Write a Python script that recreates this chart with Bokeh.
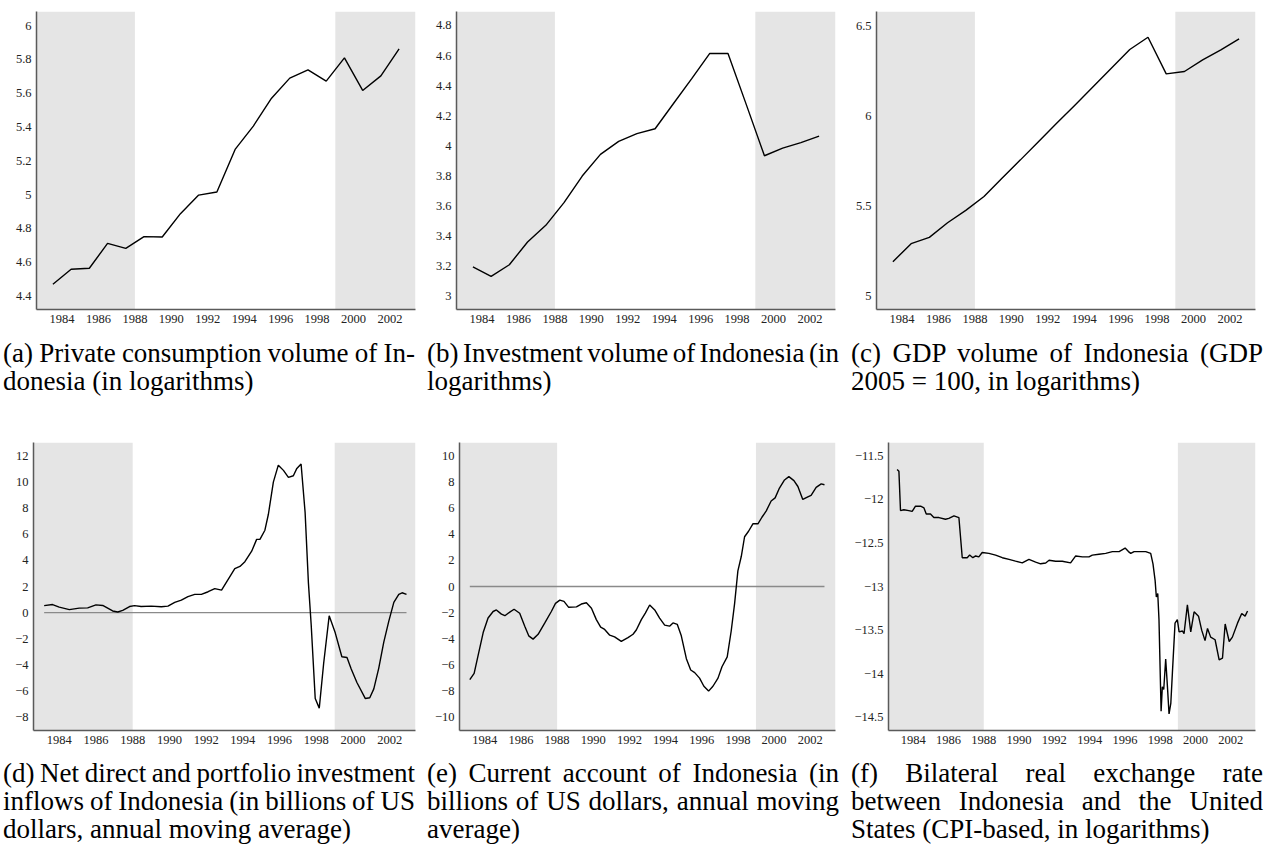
from bokeh.plotting import figure
from bokeh.models import (Range1d, FixedTicker, CustomJSTickFormatter, BoxAnnotation, Div)
from bokeh.layouts import column, row
from bokeh.embed import file_html
from bokeh.resources import INLINE

# ---------------- data ----------------
years_annual = [1983.5, 1984.5, 1985.5, 1986.5, 1987.5, 1988.5, 1989.5, 1990.5, 1991.5, 1992.5,
                1993.5, 1994.5, 1995.5, 1996.5, 1997.5, 1998.5, 1999.5, 2000.5, 2001.5, 2002.5]
consumption = [4.469, 4.558, 4.564, 4.711, 4.682, 4.751, 4.749, 4.887, 4.997, 5.015,
               5.267, 5.405, 5.570, 5.689, 5.738, 5.671, 5.809, 5.616, 5.702, 5.862]
investment = [3.193, 3.131, 3.208, 3.359, 3.470, 3.621, 3.798, 3.942, 4.029, 4.080,
              4.113, 4.279, 4.445, 4.614, 4.614, 4.275, 3.933, 3.984, 4.020, 4.064]
gdp = [5.190, 5.290, 5.325, 5.406, 5.475, 5.552, 5.654, 5.755, 5.857, 5.959,
       6.060, 6.162, 6.265, 6.367, 6.435, 6.232, 6.245, 6.310, 6.365, 6.426]

inflow_years = [1983.18, 1983.64, 1984.00, 1984.55, 1985.09, 1985.55, 1986.00, 1986.37, 1986.91, 1987.19,
                1987.46, 1987.83, 1988.10, 1988.46, 1989.01, 1989.56, 1989.92, 1990.29, 1990.65, 1991.01,
                1991.38, 1991.74, 1992.11, 1992.47, 1992.84, 1993.20, 1993.56, 1993.84, 1994.11, 1994.48,
                1994.75, 1994.93, 1995.20, 1995.39, 1995.66, 1995.93, 1996.21, 1996.48, 1996.75, 1996.94,
                1997.17, 1997.39, 1997.57, 1997.72, 1997.94, 1998.16, 1998.40, 1998.70, 1999.03, 1999.39,
                1999.67, 1999.90, 2000.21, 2000.67, 2000.91, 2001.13, 2001.40, 2001.67, 2001.94, 2002.22,
                2002.49, 2002.67, 2002.91]
inflow_vals = [0.54, 0.62, 0.42, 0.23, 0.35, 0.37, 0.60, 0.55, 0.13, 0.05,
               0.18, 0.47, 0.54, 0.47, 0.50, 0.45, 0.50, 0.79, 0.96, 1.23,
               1.40, 1.40, 1.60, 1.84, 1.72, 2.55, 3.36, 3.53, 3.90, 4.70,
               5.60, 5.60, 6.30, 7.52, 9.97, 11.27, 10.87, 10.34, 10.46, 11.02,
               11.36, 7.64, 2.26, -0.92, -6.55, -7.29, -3.86, -0.24, -1.54, -3.37,
               -3.42, -4.30, -5.33, -6.56, -6.50, -5.82, -4.23, -2.27, -0.68, 0.79,
               1.40, 1.52, 1.40]

ca_years = [1983.17, 1983.41, 1983.63, 1983.91, 1984.18, 1984.46, 1984.64, 1984.92, 1985.11, 1985.38,
            1985.62, 1985.93, 1986.21, 1986.43, 1986.67, 1986.95, 1987.32, 1987.68, 1987.91, 1988.15,
            1988.38, 1988.64, 1989.07, 1989.34, 1989.62, 1989.90, 1990.17, 1990.41, 1990.63, 1990.91,
            1991.18, 1991.55, 1991.92, 1992.20, 1992.38, 1992.66, 1992.88, 1993.12, 1993.40, 1993.67,
            1993.95, 1994.22, 1994.41, 1994.65, 1994.87, 1995.15, 1995.39, 1995.61, 1995.88, 1996.12,
            1996.38, 1996.62, 1996.90, 1997.12, 1997.41, 1997.63, 1997.82, 1998.00, 1998.19, 1998.37,
            1998.59, 1998.83, 1999.11, 1999.33, 1999.57, 1999.84, 2000.06, 2000.30, 2000.58, 2000.82,
            2001.10, 2001.32, 2001.59, 2001.87, 2002.05, 2002.33, 2002.61, 2002.79]
ca_vals = [-7.12, -6.63, -5.26, -3.52, -2.41, -1.91, -1.79, -2.11, -2.23, -1.96,
           -1.74, -2.04, -3.03, -3.77, -4.02, -3.65, -2.78, -1.91, -1.29, -1.04,
           -1.14, -1.59, -1.56, -1.34, -1.24, -1.66, -2.53, -3.10, -3.28, -3.72,
           -3.85, -4.19, -3.90, -3.65, -3.32, -2.53, -2.03, -1.41, -1.79, -2.41,
           -2.95, -3.03, -2.78, -2.90, -3.77, -5.51, -6.38, -6.58, -7.00, -7.62,
           -7.99, -7.62, -7.00, -6.13, -5.38, -3.40, -1.29, 1.19, 2.31, 3.80,
           4.22, 4.79, 4.79, 5.29, 5.78, 6.53, 6.77, 7.52, 8.14, 8.39,
           8.09, 7.64, 6.65, 6.85, 6.97, 7.57, 7.84, 7.77]

rer_years = [1983.09, 1983.19, 1983.28, 1983.47, 1983.75, 1983.94, 1984.13, 1984.42, 1984.61, 1984.74,
             1984.98, 1985.17, 1985.46, 1985.83, 1986.02, 1986.31, 1986.59, 1986.78, 1987.06, 1987.20,
             1987.38, 1987.54, 1987.72, 1987.91, 1988.29, 1988.67, 1989.05, 1989.43, 1989.80, 1990.18,
             1990.56, 1990.94, 1991.22, 1991.51, 1991.70, 1992.07, 1992.45, 1992.92, 1993.21, 1993.59,
             1993.96, 1994.15, 1994.53, 1994.91, 1995.29, 1995.67, 1996.01, 1996.20, 1996.33, 1996.52,
             1996.80, 1997.18, 1997.46, 1997.59, 1997.71, 1997.78, 1997.86, 1997.93, 1998.05, 1998.12,
             1998.20, 1998.31, 1998.41, 1998.50, 1998.60, 1998.69, 1998.84, 1998.97, 1999.07, 1999.26,
             1999.35, 1999.54, 1999.73, 1999.92, 2000.17, 2000.35, 2000.54, 2000.68, 2000.86, 2001.11,
             2001.34, 2001.53, 2001.68, 2001.91, 2002.09, 2002.38, 2002.62, 2002.81, 2002.95]
rer_vals = [-11.66, -11.68, -12.13, -12.12, -12.13, -12.14, -12.08, -12.08, -12.10, -12.17,
            -12.17, -12.21, -12.21, -12.23, -12.22, -12.19, -12.21, -12.67, -12.67, -12.64,
            -12.67, -12.65, -12.66, -12.61, -12.62, -12.64, -12.67, -12.69, -12.71, -12.73,
            -12.69, -12.72, -12.74, -12.73, -12.70, -12.71, -12.71, -12.73, -12.65, -12.66,
            -12.66, -12.64, -12.63, -12.62, -12.60, -12.60, -12.56, -12.60, -12.62, -12.60,
            -12.60, -12.60, -12.62, -12.74, -12.93, -13.12, -13.08, -13.38, -14.43, -14.15,
            -14.18, -13.83, -14.15, -14.46, -14.34, -13.99, -13.42, -13.38, -13.52, -13.51,
            -13.54, -13.21, -13.52, -13.29, -13.34, -13.50, -13.62, -13.48, -13.58, -13.61,
            -13.84, -13.82, -13.43, -13.63, -13.58, -13.42, -13.31, -13.34, -13.28]

x_ticks = [1984, 1986, 1988, 1990, 1992, 1994, 1996, 1998, 2000, 2002]
yticks_a = [4.4, 4.6, 4.8, 5, 5.2, 5.4, 5.6, 5.8, 6]
yticks_b = [3, 3.2, 3.4, 3.6, 3.8, 4, 4.2, 4.4, 4.6, 4.8]
yticks_c = [5, 5.5, 6, 6.5]
yticks_d = [-8, -6, -4, -2, 0, 2, 4, 6, 8, 10, 12]
yticks_e = [-10, -8, -6, -4, -2, 0, 2, 4, 6, 8, 10]
yticks_f = [-14.5, -14, -13.5, -13, -12.5, -12, -11.5]

shade_end_first = 1988
shade_start_second = 1999
x_start, x_end = 1982.6, 2003.4

captions = {
    "a": ["(a) Private consumption volume of In-", "donesia (in logarithms)"],
    "b": ["(b) Investment volume of Indonesia (in", "logarithms)"],
    "c": ["(c) GDP volume of Indonesia (GDP", "2005 = 100, in logarithms)"],
    "d": ["(d) Net direct and portfolio investment", "inflows of Indonesia (in billions of US",
          "dollars, annual moving average)"],
    "e": ["(e) Current account of Indonesia (in", "billions of US dollars, annual moving", "average)"],
    "f": ["(f) Bilateral real exchange rate", "between Indonesia and the United",
          "States (CPI-based, in logarithms)"],
}

SERIF = "Liberation Serif"
SHADE = "#e5e5e5"
AXIS = "#5a5a5a"

fmt_code = "return String(tick).replace('-', '\\u2212');"


def panel(xs, ys, y_rng, yticks, borders, zero=False):
    left, right, top, bottom = borders
    p = figure(width=424, height=330, output_backend="svg", toolbar_location=None,
               x_range=Range1d(x_start, x_end), y_range=Range1d(*y_rng),
               min_border_left=left, min_border_right=right,
               min_border_top=top, min_border_bottom=bottom)
    p.outline_line_color = None
    p.grid.visible = False
    p.background_fill_color = "white"
    p.border_fill_color = "white"
    p.add_layout(BoxAnnotation(left=x_start, right=shade_end_first, fill_color=SHADE,
                               fill_alpha=1.0, line_color=None, level="underlay"))
    p.add_layout(BoxAnnotation(left=shade_start_second, right=x_end, fill_color=SHADE,
                               fill_alpha=1.0, line_color=None, level="underlay"))
    if zero:
        p.line([xs[0], xs[-1]], [0, 0], line_color="#8a8a8a", line_width=1.3)
    p.line(xs, ys, line_color="black", line_width=1.4)
    for ax, ticks in ((p.xaxis[0], x_ticks), (p.yaxis[0], yticks)):
        ax.ticker = FixedTicker(ticks=ticks)
        ax.formatter = CustomJSTickFormatter(code=fmt_code)
        ax.axis_line_color = AXIS
        ax.axis_line_width = 1.5
        ax.major_tick_out = 0
        ax.major_tick_in = 0
        ax.minor_tick_out = 0
        ax.minor_tick_in = 0
        ax.major_label_text_font = SERIF
        ax.major_label_text_font_size = "12.5px"
        ax.major_label_text_color = "#222222"
        ax.major_label_standoff = 5
    return p


def caption(lines, height):
    parts = []
    for i, ln in enumerate(lines):
        if i < len(lines) - 1:
            parts.append('<div style="text-align:justify;text-align-last:justify;word-spacing:-3px">%s</div>' % ln)
        else:
            parts.append('<div style="text-align:left">%s</div>' % ln)
    html = ('<div style="font-family:\'Liberation Serif\',\'Times New Roman\',serif;font-size:27px;'
            'line-height:28px;color:#000;padding:9px 9px 0 3px;width:412px;box-sizing:content-box">'
            + "".join(parts) + '</div>')
    return Div(text=html, width=424, height=height, margin=0)


pa = panel(years_annual, consumption, (4.32, 6.083), yticks_a, (36, 9, 11, 21))
pb = panel(years_annual, investment, (2.91, 4.893), yticks_b, (32, 13, 11, 21))
pc = panel(years_annual, gdp, (4.925, 6.578), yticks_c, (28, 17, 11, 21))
pd = panel(inflow_years, inflow_vals, (-9, 13), yticks_d, (33, 9, 10, 20), zero=True)
pe = panel(ca_years, ca_vals, (-11, 11), yticks_e, (35, 13, 15, 19), zero=True)
pf = panel(rer_years, rer_vals, (-14.65, -11.35), yticks_f, (40, 17, 22, 19))

layout = column(
    row(pa, pb, pc, spacing=0),
    row(caption(captions["a"], 90), caption(captions["b"], 90), caption(captions["c"], 90), spacing=0),
    row(pd, pe, pf, spacing=0),
    row(caption(captions["d"], 98), caption(captions["e"], 98), caption(captions["f"], 98), spacing=0),
    spacing=0,
)

open("out.html", "w").write(file_html(layout, INLINE))
